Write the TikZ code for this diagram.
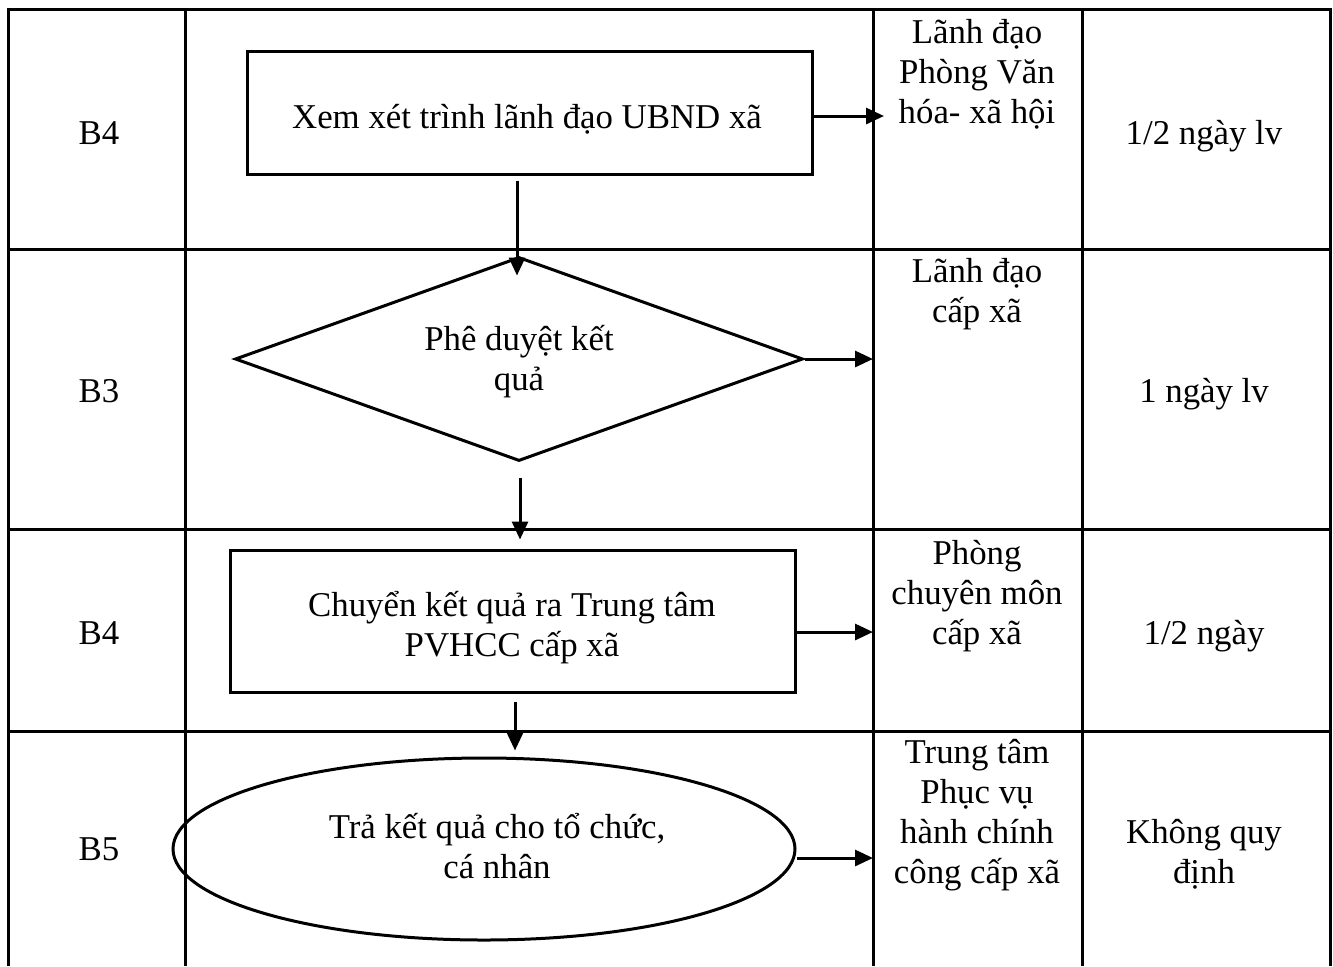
\documentclass[tikz,border=0pt]{standalone}
\usepackage{fontspec}
\setmainfont{Liberation Serif}
\usetikzlibrary{shapes.geometric,arrows.meta,calc}
\newcommand\dgfont{\fontsize{17.4pt}{20pt}\selectfont}
\begin{document}
\begin{tikzpicture}[x=0.5pt,y=-0.5pt,
  tbl/.style={line width=1.5pt},
  shp/.style={draw,line width=1.5pt,inner sep=0pt},
  txt/.style={align=center,font=\dgfont,inner sep=0pt,yshift=-2pt},
  arr/.style={line width=1.5pt,-{Triangle[length=9pt,width=8pt]}}]
\useasboundingbox (0,0) rectangle (1333,966);
% table
\draw[tbl] (8,966) -- (8,9) -- (1330,9) -- (1330,966);
\draw[tbl] (185,9) -- (185,966);
\draw[tbl] (873,9) -- (873,966);
\draw[tbl] (1082,9) -- (1082,966);
\draw[tbl] (8,249) -- (1330,249);
\draw[tbl] (8,529) -- (1330,529);
\draw[tbl] (8,731) -- (1330,731);
\coordinate (colC) at (873,0);
\coordinate (colCp) at (884,0);
% column 1
\node[txt] (s1) at (99,132) {\strut B4};
\node[txt] (s2) at (99,390) {\strut B3};
\node[txt] (s3) at (99,632) {\strut B4};
\node[txt] (s4) at (99,848) {\strut B5};
% column 3
\node[txt] (r1) at (977,71) {\strut Lãnh đạo\\\strut Phòng Văn\\\strut hóa- xã hội};
\node[txt] (r2) at (977,290) {\strut Lãnh đạo\\\strut cấp xã};
\node[txt] (r3) at (977,592) {\strut Phòng\\\strut chuyên môn\\\strut cấp xã};
\node[txt] (r4) at (977,811) {\strut Trung tâm\\\strut Phục vụ\\\strut hành chính\\\strut công cấp xã};
% column 4
\node[txt] (d1) at (1204,132) {\strut 1/2 ngày lv};
\node[txt] (d2) at (1204,390) {\strut 1 ngày lv};
\node[txt] (d3) at (1204,632) {\strut 1/2 ngày};
\node[txt] (d4) at (1204,851) {\strut Không quy\\\strut định};
% shapes
\node[shp,rectangle,minimum width=282.5pt,minimum height=61.5pt] (box1) at (529.5,112.5) {};
\node[txt] (tb1) at (527,116) {\strut Xem xét trình lãnh đạo UBND xã};
\node[shp,diamond,minimum width=284pt,minimum height=102pt] (dia) at (519,359) {};
\node[txt] (tdia) at (519,358) {\strut Phê duyệt kết\\\strut quả};
\node[shp,rectangle,minimum width=282.5pt,minimum height=71pt] (box2) at (512.5,621) {};
\node[txt] (tb2) at (512,624) {\strut Chuyển kết quả ra Trung tâm\\\strut PVHCC cấp xã};
\node[shp,ellipse,minimum width=311pt,minimum height=91pt] (ell) at (484,849) {};
\node[txt] (tell) at (497,846) {\strut Trả kết quả cho tổ chức,\\\strut cá nhân};
% arrows
\draw[arr] ([yshift=-1.75pt]box1.east) -- ([yshift=-1.75pt]box1.east -| colCp);
\draw[arr] ($(box1.south)+(-12.5,5)$) -- ($(dia.north)+(-2,20)$);
\draw[arr] (dia.east) -- (dia.east -| colC);
\draw[arr] ($(dia.south)+(1,15)$) -- ($(dia.south |- box2.north)+(1,-9)$);
\draw[arr] ([yshift=-5.5pt]box2.east) -- ([yshift=-5.5pt]box2.east -| colC);
\draw[arr] ($(box2.south)+(2.5,8)$) -- ($(box2.south |- ell.north)+(2.5,-6)$);
\draw[arr] ([yshift=-4.5pt]ell.east) -- ([yshift=-4.5pt]ell.east -| colC);
\end{tikzpicture}
\end{document}
